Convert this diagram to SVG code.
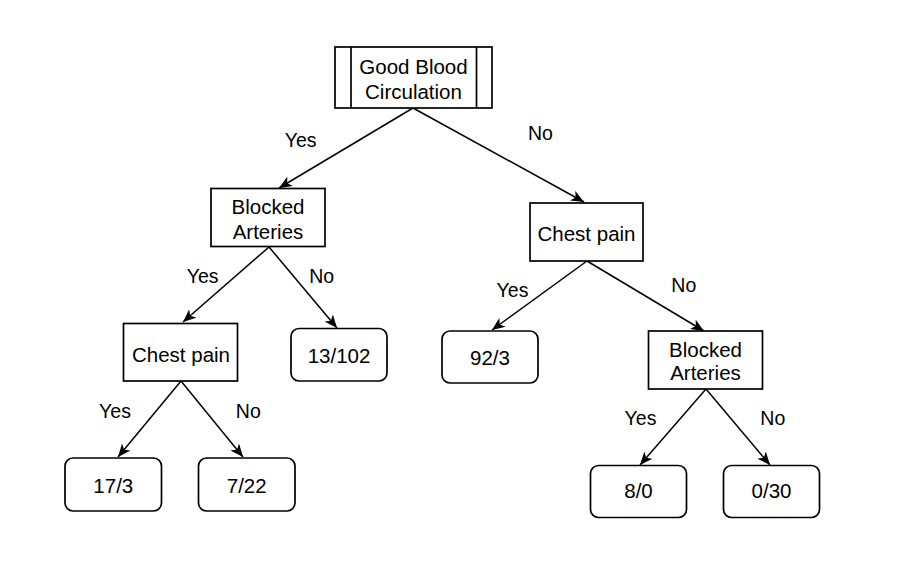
<svg xmlns="http://www.w3.org/2000/svg" width="908" height="575" viewBox="0 0 908 575">
<defs>
<marker id="arr" markerUnits="userSpaceOnUse" viewBox="0 0 13 11" markerWidth="13" markerHeight="11" refX="13" refY="5.5" orient="auto">
<path d="M0,0 L13,5.5 L0,11 L3.5,5.5 Z" fill="#000"/>
</marker>
</defs>
<style>
.box{fill:#fff;stroke:#000;stroke-width:1.7}
.t{font-family:"Liberation Sans",Arial,sans-serif;font-size:20.5px;fill:#000;text-anchor:middle}
.l{font-family:"Liberation Sans",Arial,sans-serif;font-size:19.5px;fill:#000;text-anchor:middle}
.e{fill:none;stroke:#000;stroke-width:1.5;marker-end:url(#arr)}
</style>
<rect width="908" height="575" fill="#fff"/>
<g id="edges">
<path class="e" d="M413,108 L279,188"/>
<path class="e" d="M413,108 L584,202"/>
<path class="e" d="M269,247 L183,322"/>
<path class="e" d="M269,247 L337,328"/>
<path class="e" d="M181,381 L118,457"/>
<path class="e" d="M181,381 L243,457"/>
<path class="e" d="M587,261 L492,330"/>
<path class="e" d="M587,261 L704,331"/>
<path class="e" d="M706,389 L640,465"/>
<path class="e" d="M706,389 L770,465"/>
</g>
<g id="edge-labels">
<text class="l" x="300.7" y="147">Yes</text>
<text class="l" x="540.5" y="140">No</text>
<text class="l" x="202.7" y="283">Yes</text>
<text class="l" x="321.7" y="283">No</text>
<text class="l" x="115" y="418">Yes</text>
<text class="l" x="248.3" y="418">No</text>
<text class="l" x="512.5" y="297">Yes</text>
<text class="l" x="683.8" y="292">No</text>
<text class="l" x="640.5" y="425">Yes</text>
<text class="l" x="772.8" y="425">No</text>
</g>
<g id="root">
<rect class="box" x="335" y="47" width="157" height="61"/>
<line x1="351" y1="47" x2="351" y2="108" stroke="#000" stroke-width="1.7"/>
<line x1="476.5" y1="47" x2="476.5" y2="108" stroke="#000" stroke-width="1.7"/>
<text class="t" x="413.5" y="74.3">Good Blood</text>
<text class="t" x="413.5" y="99.3">Circulation</text>
</g>
<g id="blocked1">
<rect class="box" x="211" y="188.5" width="114" height="58"/>
<text class="t" x="268" y="214.3">Blocked</text>
<text class="t" x="268" y="238.5">Arteries</text>
</g>
<g id="chest-right">
<rect class="box" x="530" y="203" width="113" height="58"/>
<text class="t" x="586.5" y="240.7">Chest pain</text>
</g>
<g id="chest-left">
<rect class="box" x="123.5" y="323.5" width="114" height="57.5"/>
<text class="t" x="181" y="361.7">Chest pain</text>
</g>
<g id="leaf-13-102">
<rect class="box" x="291" y="328.5" width="96" height="52.5" rx="8"/>
<text class="t" x="339" y="363.3">13/102</text>
</g>
<g id="leaf-17-3">
<rect class="box" x="65" y="458" width="96.5" height="53" rx="8"/>
<text class="t" x="113.3" y="492.7">17/3</text>
</g>
<g id="leaf-7-22">
<rect class="box" x="198.5" y="458" width="96.5" height="53" rx="8"/>
<text class="t" x="246.7" y="492.7">7/22</text>
</g>
<g id="leaf-92-3">
<rect class="box" x="442" y="331" width="96" height="52" rx="8"/>
<text class="t" x="490" y="365">92/3</text>
</g>
<g id="blocked2">
<rect class="box" x="648.5" y="331" width="114" height="58"/>
<text class="t" x="705.5" y="356.7">Blocked</text>
<text class="t" x="705.5" y="380.3">Arteries</text>
</g>
<g id="leaf-8-0">
<rect class="box" x="590.5" y="465.5" width="96" height="52" rx="8"/>
<text class="t" x="638.5" y="498.3">8/0</text>
</g>
<g id="leaf-0-30">
<rect class="box" x="723.5" y="465.5" width="96" height="52" rx="8"/>
<text class="t" x="771.5" y="498.3">0/30</text>
</g>
</svg>
